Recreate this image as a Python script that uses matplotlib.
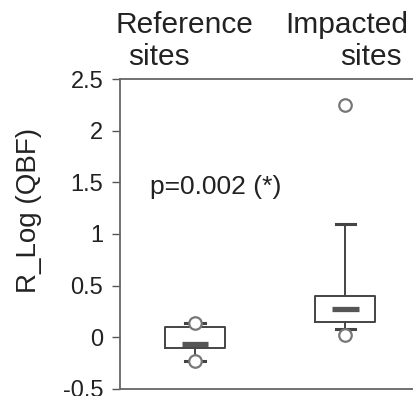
import matplotlib.pyplot as plt

plt.rcParams['font.family'] = ['Liberation Sans', 'DejaVu Sans']

groups = ['Reference sites', 'Impacted sites']
q1 = [-0.10, 0.15]
med = [-0.06, 0.27]
q3 = [0.10, 0.40]
whislo = [-0.23, 0.08]
whishi = [0.14, 1.10]
fliers = [[0.14, -0.23], [0.02, 2.25]]
yticks = [-0.5, 0, 0.5, 1, 1.5, 2, 2.5]
ytick_labels = ['-0.5', '0', '0.5', '1', '1.5', '2', '2.5']
p_text = 'p=0.002 (*)'

fig = plt.figure(figsize=(4.13, 3.96), dpi=100)
ax = fig.add_axes([0.2906, 0.0177, 0.7275, 0.7828])

stats = []
for i, g in enumerate(groups):
    stats.append(dict(label=g, q1=q1[i], med=med[i], q3=q3[i],
                      whislo=whislo[i], whishi=whishi[i], fliers=fliers[i]))

pos = [1, 2]
ax.bxp(stats, positions=pos, widths=0.4, capwidths=0.13,
       boxprops=dict(color='#444444', lw=1.4),
       whiskerprops=dict(color='#444444', lw=1.4),
       capprops=dict(color='#444444', lw=2.2),
       medianprops=dict(lw=0),
       flierprops=dict(marker='o', markersize=9, markerfacecolor='white',
                       markeredgecolor='#777777', markeredgewidth=1.6))
# short, thick median bars
ax.hlines(med, [p - 0.088 for p in pos], [p + 0.088 for p in pos],
          color='#555555', lw=3.8, zorder=3)

ax.set_xlim(0.5, 2.5)
ax.set_ylim(-0.5, 2.5)
ax.set_yticks(yticks)
ax.set_yticklabels(ytick_labels)
ax.set_xticks([])
ax.tick_params(axis='y', labelsize=17, length=6, width=1, color='#555555',
               labelcolor='#222222', pad=6)
for s in ['left', 'top', 'bottom']:
    ax.spines[s].set_color('#666666')
    ax.spines[s].set_linewidth(1.3)
ax.spines['right'].set_visible(False)

ax.text(0.70, 1.39, p_text, fontsize=19, color='#222222', va='baseline')

fig.text(29 / 413, 1 - 210 / 396, 'R_Log (QBF)', rotation=90, fontsize=20,
         color='#222222', ha='center', va='center')

fig.text(115 / 413, 1 - 33 / 396, 'Reference', fontsize=21.5, color='#222222',
         ha='left', va='baseline')
fig.text(128 / 413, 1 - 65 / 396, 'sites', fontsize=21.5, color='#222222',
         ha='left', va='baseline')
fig.text(408 / 413, 1 - 33 / 396, 'Impacted', fontsize=21.5, color='#222222',
         ha='right', va='baseline')
fig.text(402 / 413, 1 - 65 / 396, 'sites', fontsize=21.5, color='#222222',
         ha='right', va='baseline')

fig.savefig('out.png', dpi=100)
